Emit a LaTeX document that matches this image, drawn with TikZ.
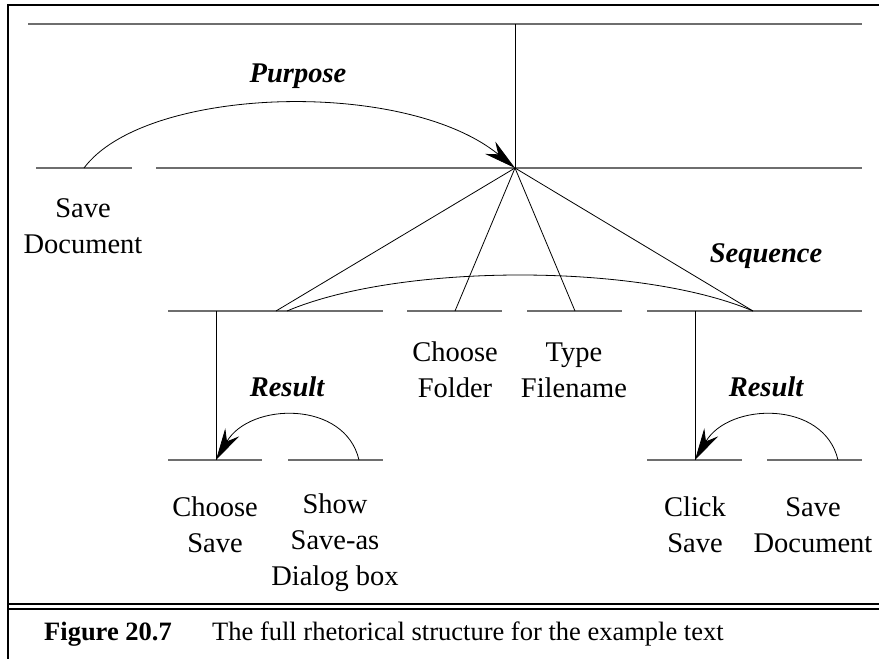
\documentclass[tikz,border=0pt]{standalone}
\usepackage{fontspec}
\setmainfont{Liberation Serif}
\definecolor{spangray}{RGB}{110, 110, 110}
\usepackage{tikz}
\usetikzlibrary{arrows.meta, positioning, calc}

\begin{document}
\begin{tikzpicture}[x=1pt, y=-1pt,
    span/.style={draw=spangray, line width=2pt},
    link/.style={draw=black, line width=0.8pt},
    relarrow/.style={link, arrows={-Stealth[length=32pt, width=16pt]}},
    txt/.style={align=center, inner sep=0pt, font=\fontsize{28.5}{36}\selectfont},
    captiontext/.style={inner sep=0pt, anchor=base west, font=\fontsize{26.5}{32}\selectfont},
    rel/.style={inner sep=0pt, font=\fontsize{28.5}{36}\selectfont\bfseries\itshape}]
  \useasboundingbox (0,0) rectangle (879,659);

  % frame
  \draw[line width=2.5pt] (8,659) -- (8,5) -- (879,5);
  \draw[line width=2pt] (8,604) -- (879,604);
  \draw[line width=2pt] (8,609) -- (879,609);

  % spans
  \draw[span] (28,24) -- (862,24);
  \draw[span] (36,168) -- (132,168);
  \draw[span] (156,168) -- (862,168);
  \draw[span] (168,311) -- (383,311);
  \draw[span] (407,311) -- (502,311);
  \draw[span] (527,311) -- (622,311);
  \draw[span] (647,311) -- (862,311);
  \draw[span] (168,460) -- (262,460);
  \draw[span] (288,460) -- (383,460);
  \draw[span] (647,460) -- (742,460);
  \draw[span] (767,460) -- (862,460);

  % anchor points
  \coordinate (root) at (515,24);
  \coordinate (purpose) at (515,168);
  \coordinate (savedoc) at (84,168);
  \coordinate (seqA) at (276,311);
  \coordinate (seqB) at (455,311);
  \coordinate (seqC) at (575,311);
  \coordinate (seqD) at (753,311);
  \coordinate (seqS) at (287,311);
  \coordinate (resL) at (216,311);
  \coordinate (chsave) at (216,460);
  \coordinate (showdlg) at (359,460);
  \coordinate (resR) at (695,311);
  \coordinate (clsave) at (695,460);
  \coordinate (savedocB) at (838,460);

  % connectors
  \draw[link] (root) -- (purpose);
  \draw[relarrow] (savedoc) .. controls (145,86) and (405,78) .. (purpose);
  \draw[link] (purpose) -- (seqA);
  \draw[link] (purpose) -- (seqB);
  \draw[link] (purpose) -- (seqC);
  \draw[link] (purpose) -- (seqD);
  \draw[link] (seqS) .. controls (400,263) and (640,263) .. (seqD);
  \draw[link] (resL) -- (chsave);
  \draw[relarrow] (showdlg) .. controls (345,400) and (250,402) .. (chsave);
  \draw[link] (resR) -- (clsave);
  \draw[relarrow] (savedocB) .. controls (824,400) and (729,402) .. (clsave);

  % relation labels
  \node[rel] (lblpurpose) at (298,76) {Purpose};
  \node[rel] (lblsequence) at (766,256) {Sequence};
  \node[rel] (lblresultL) at (287,387) {Result};
  \node[rel] (lblresultR) at (766,387) {Result};

  % leaf texts
  \node[txt] (tsavedoc) at (83,226) {Save\\Document};
  \node[txt] (tfolder) at (455,370) {Choose\\Folder};
  \node[txt] (tfilename) at (574,370) {Type\\Filename};
  \node[txt] (tchsave) at (215,525) {Choose\\Save};
  \node[txt] (tdialog) at (335,543) {Show\\Save-as\\Dialog box};
  \node[txt] (tclsave) at (695,525) {Click\\Save};
  \node[txt] (tsavedocB) at (813,525) {Save\\Document};

  % caption
  \node[captiontext] (capnum) at (44,640) {\textbf{Figure 20.7}};
  \node[captiontext] (captext) at (212,640) {The full rhetorical structure for the example text};
\end{tikzpicture}
\end{document}
